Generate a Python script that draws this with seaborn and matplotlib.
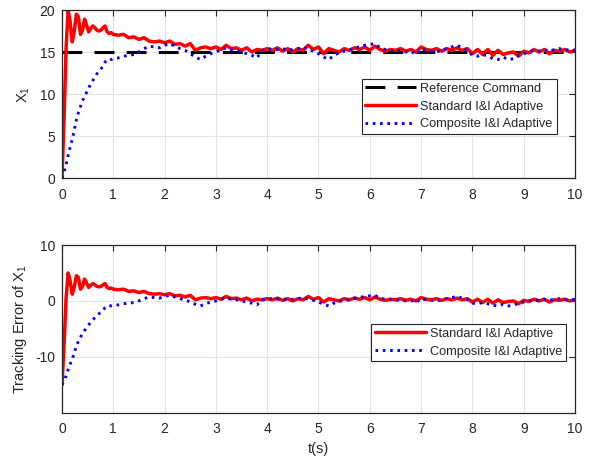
import numpy as np
import pandas as pd
import matplotlib
matplotlib.use("Agg")
import matplotlib.pyplot as plt
import seaborn as sns

sns.set_style("whitegrid")
plt.rcParams['font.family'] = ['Liberation Sans', 'DejaVu Sans']
plt.rcParams['mathtext.default'] = 'regular'
plt.rcParams['axes.unicode_minus'] = False

# time samples (s): fine at the start, 0.1 s afterwards
t_early = [0.00, 0.04, 0.08, 0.12, 0.16, 0.20, 0.24, 0.28, 0.32, 0.36,
           0.40, 0.44, 0.48, 0.52, 0.56, 0.60, 0.64, 0.68, 0.72, 0.76,
           0.80, 0.84, 0.88, 0.92, 0.96, 1.00]
t_late = [round(1.1 + 0.1 * i, 1) for i in range(90)]
t = np.array(t_early + t_late)

ref_value = 15.0

# tracking error of X1, standard I&I adaptive
err_std = [-15.0, -8.0, 0.5, 5.0, 3.5, 1.2, 2.5, 4.5, 4.2, 2.1,
           2.6, 3.9, 3.2, 2.4, 2.8, 3.1, 2.9, 2.6, 2.5, 2.6,
           2.9, 3.1, 2.4, 2.2, 2.3, 2.1,
           2.0, 2.1, 1.7, 1.8, 1.5, 1.7, 1.3, 1.2, 1.3, 1.1,
           1.3, 0.9, 1.0, 0.7, 1.0, 0.2, 0.5, 0.6, 0.4, 0.6,
           0.3, 0.8, 0.4, 0.5, 0.2, 0.5, 0.0, 0.3, 0.2, 0.4,
           0.2, 0.5, 0.1, 0.4, 0.0, 0.4, 0.2, 0.8, 0.3, 0.6,
           -0.2, 0.4, 0.2, 0.0, 0.4, 0.2, 0.5, 0.3, 0.6, 0.2,
           0.7, 0.3, 0.1, 0.3, 0.2, 0.4, 0.1, 0.3, 0.0, 0.6,
           0.3, 0.2, 0.4, 0.1, 0.4, 0.2, 0.5, 0.2, 0.4, -0.2,
           0.3, -0.3, 0.3, -0.4, 0.2, -0.3, -0.1, 0.0, -0.5, 0.1,
           -0.1, 0.3, 0.0, 0.3, -0.2, 0.2, 0.1, 0.3, 0.0, 0.2]

# tracking error of X1, composite I&I adaptive
err_cmp = [-15.0, -14.3, -13.4, -12.3, -11.3, -10.4, -9.3, -8.1, -7.2, -6.5,
           -5.8, -5.3, -4.8, -4.3, -3.8, -3.4, -3.0, -2.6, -2.3, -2.0,
           -1.7, -1.2, -0.95, -0.8, -0.9, -0.8,
           -0.7, -0.5, -0.4, -0.3, 0.0, 0.4, 0.7, 0.6, 0.5, 0.8,
           1.0, 0.7, 0.4, 0.2, -0.2, -0.6, -0.9, -0.5, -0.2, 0.0,
           0.3, 0.5, 0.3, 0.2, 0.0, -0.2, -0.4, -0.7, 0.2, 0.3,
           0.4, 0.3, 0.4, 0.2, 0.3, 0.4, 0.6, 0.3, 0.1, -0.2,
           -0.6, -0.9, -0.4, -0.1, 0.1, 0.2, 0.5, 0.6, 0.8, 0.9,
           1.0, 0.5, 0.3, 0.2, 0.1, 0.2, 0.0, 0.1, -0.3, 0.4,
           0.2, 0.1, 0.0, 0.2, 0.4, 0.6, 0.8, 0.5, 0.2, -0.4,
           -0.5, -0.3, -0.5, -0.8, -0.9, -0.6, -0.9, -0.8, -0.4, -0.2,
           0.0, 0.2, 0.1, 0.3, 0.1, 0.3, 0.4, 0.2, 0.3, 0.2]

df = pd.DataFrame({
    't': t,
    'ref': ref_value,
    'err_std': err_std,
    'err_cmp': err_cmp,
})
df['x_std'] = df['ref'] + df['err_std']
df['x_cmp'] = df['ref'] + df['err_cmp']

txt = '#262626'
grid_c = '#e3e3e3'
red = '#ff0000'
blue = '#0000ff'
dotted = (0, (0.9, 1.6))

fig = plt.figure(figsize=(5.92, 4.59), dpi=100)
ax1 = fig.add_axes([0.1047, 0.6122, 0.8666, 0.366])
ax2 = fig.add_axes([0.1047, 0.1009, 0.8666, 0.3653])

# top: X1
sns.lineplot(data=df, x='t', y='ref', ax=ax1, color='black', linewidth=2.2,
             sort=False, estimator=None, label='Reference Command')
ax1.lines[-1].set_dashes((6.5, 4))
sns.lineplot(data=df, x='t', y='x_std', ax=ax1, color=red, linewidth=2.5,
             sort=False, estimator=None, label='Standard I&I Adaptive')
sns.lineplot(data=df, x='t', y='x_cmp', ax=ax1, color=blue, linewidth=2.1,
             sort=False, estimator=None, label='Composite I&I Adaptive')
ax1.lines[-1].set_linestyle(dotted)

# bottom: tracking error
sns.lineplot(data=df, x='t', y='err_std', ax=ax2, color=red, linewidth=2.5,
             sort=False, estimator=None, label='Standard I&I Adaptive')
sns.lineplot(data=df, x='t', y='err_cmp', ax=ax2, color=blue, linewidth=2.1,
             sort=False, estimator=None, label='Composite I&I Adaptive')
ax2.lines[-1].set_linestyle(dotted)

ax1.set_xlim(0, 10)
ax1.set_ylim(0, 20)
ax1.set_yticks([0, 5, 10, 15, 20])
ax2.set_xlim(0, 10)
ax2.set_ylim(-20, 10)
ax2.set_yticks([-10, 0, 10])

ax1.set_xlabel('')
ax1.set_ylabel('X$_1$', fontsize=10.5, color=txt, labelpad=5)
ax2.set_xlabel('t(s)', fontsize=10.5, color=txt, labelpad=4)
ax2.set_ylabel('Tracking Error of X$_1$', fontsize=10.5, color=txt, labelpad=4)

for ax in (ax1, ax2):
    ax.set_xticks(range(0, 11))
    ax.set_facecolor('white')
    ax.grid(True, color=grid_c, linewidth=0.8)
    for s in ax.spines.values():
        s.set_visible(True)
        s.set_color(txt)
        s.set_linewidth(0.9)
    ax.tick_params(direction='in', length=4, width=0.8, colors=txt,
                   labelsize=10, top=True, right=True)
    ax.tick_params(axis='x', pad=7)
    ax.tick_params(axis='y', pad=5)

leg_kw = dict(loc='upper right', fancybox=False, framealpha=1, edgecolor=txt,
              fontsize=9.2, handlelength=4.0, labelspacing=0.45, borderpad=0.3,
              handletextpad=0.3, borderaxespad=0)
leg1 = ax1.legend(bbox_to_anchor=(0.964, 0.589), **leg_kw)
leg2 = ax2.legend(bbox_to_anchor=(0.982, 0.529), **leg_kw)
for leg in (leg1, leg2):
    leg.get_frame().set_linewidth(0.8)
    for tx in leg.get_texts():
        tx.set_color(txt)

fig.savefig('out.png', dpi=100)
